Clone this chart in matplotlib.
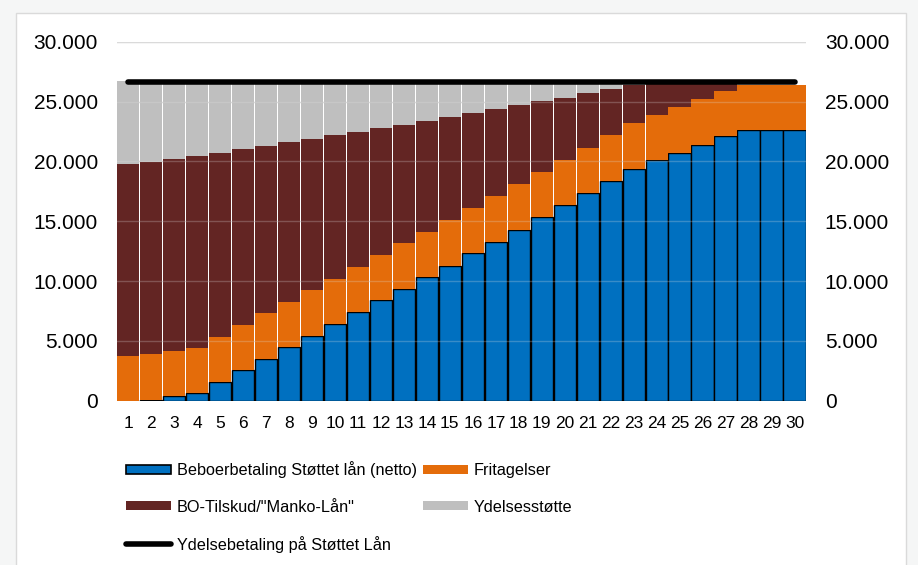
import matplotlib.pyplot as plt
import matplotlib.patches as mpatches
from matplotlib.lines import Line2D
from matplotlib.ticker import FuncFormatter, MultipleLocator
import numpy as np

plt.rcParams['font.family'] = ['Liberation Sans', 'DejaVu Sans']

aar = np.arange(1, 31)

# kr. pr. år, stablet nedefra
beboer = [0, 100, 360, 670, 1580, 2550, 3500, 4470, 5440, 6420,
          7390, 8390, 9330, 10300, 11280, 12310, 13280, 14300, 15330, 16330,
          17360, 18360, 19390, 20080, 20720, 21390, 22080, 22640, 22640, 22640]
fritagelser = [3750, 3790, 3810, 3750, 3780, 3780, 3800, 3780, 3780, 3770,
               3780, 3780, 3810, 3810, 3800, 3770, 3800, 3780, 3780, 3810,
               3780, 3810, 3780, 3810, 3810, 3800, 3780, 3780, 3780, 3780]
bo_tilskud = [16000, 16030, 16000, 16020, 15360, 14670, 13980, 13330, 12640, 11980,
              11300, 10610, 9940, 9280, 8610, 7950, 7280, 6590, 5920, 5190,
              4550, 3890, 3210, 2860, 2220, 1560, 890, 0, 0, 0]
ydelsesstotte = [7000, 6830, 6580, 6310, 6030, 5750, 5470, 5170, 4890, 4580,
                 4280, 3970, 3670, 3360, 3060, 2720, 2390, 2080, 1720, 1420,
                 1060, 690, 370, 0, 0, 0, 0, 0, 0, 0]
ydelse = [26600] * 30

labels = ['Beboerbetaling Støttet lån (netto)', 'BO-Tilskud/"Manko-Lån"',
          'Ydelsebetaling på Støttet Lån', 'Fritagelser', 'Ydelsesstøtte']

blaa = '#0070c0'
orange = '#e46c0a'
brun = '#632523'
graa = '#bfbfbf'

fig = plt.figure(figsize=(9.18, 5.65), dpi=100, facecolor='#f5f6f6')

# hvid ramme bag diagrammet
panel = mpatches.Rectangle((16 / 918, -0.02), 890 / 918, 1.02 - 12.7 / 565,
                           transform=fig.transFigure, facecolor='white',
                           edgecolor='#dadada', lw=1.0, zorder=0)
fig.add_artist(panel)

ax = fig.add_axes([116.7 / 918, 164.3 / 565, 689.3 / 918, 359 / 565])
ax.set_facecolor('none')

b1 = np.array(beboer)
b2 = b1 + np.array(fritagelser)
b3 = b2 + np.array(bo_tilskud)

w = 0.97
ax.bar(aar, beboer, w, color=blaa, edgecolor='black', lw=1.0, zorder=2)
ax.bar(aar, fritagelser, w, bottom=b1, color=orange, lw=0, zorder=2)
ax.bar(aar, bo_tilskud, w, bottom=b2, color=brun, lw=0, zorder=2)
ax.bar(aar, ydelsesstotte, w, bottom=b3, color=graa, lw=0, zorder=2)
ax.plot(aar, ydelse, color='black', lw=4, solid_capstyle='round', zorder=4)

ax.set_xlim(0.5, 30.5)
ax.set_ylim(0, 30000)
ax.yaxis.set_major_locator(MultipleLocator(5000))
ax.yaxis.set_major_formatter(FuncFormatter(lambda v, p: f'{int(v):,}'.replace(',', '.')))
ax.set_xticks(aar)

ax.yaxis.grid(True, color='#d9d9d9', lw=1.0, zorder=0)
ax.set_axisbelow(True)
for yv in range(5000, 30001, 5000):
    ax.axhline(yv, color='#e0e0e0', lw=1.0, alpha=0.25, zorder=3)

for s in ax.spines.values():
    s.set_visible(False)
ax.tick_params(axis='y', length=0, pad=13.5, labelsize=15,
               labelleft=True, labelright=True)
ax.tick_params(axis='x', length=0, pad=11, labelsize=12.5)

handles = [
    mpatches.Patch(facecolor=blaa, edgecolor='black', lw=1.2),
    mpatches.Patch(facecolor=brun, edgecolor='none'),
    Line2D([], [], color='black', lw=4, solid_capstyle='round'),
    mpatches.Patch(facecolor=orange, edgecolor='none'),
    mpatches.Patch(facecolor=graa, edgecolor='none'),
]
fig.legend(handles, labels, ncol=2, loc='upper left',
           bbox_to_anchor=(126 / 918, 1 - 461.5 / 565), frameon=False,
           fontsize=11.7, handlelength=2.77, handleheight=0.5,
           handletextpad=0.35, columnspacing=0.41, labelspacing=1.3,
           borderpad=0, borderaxespad=0)

fig.savefig('out.png', dpi=100, facecolor=fig.get_facecolor())
